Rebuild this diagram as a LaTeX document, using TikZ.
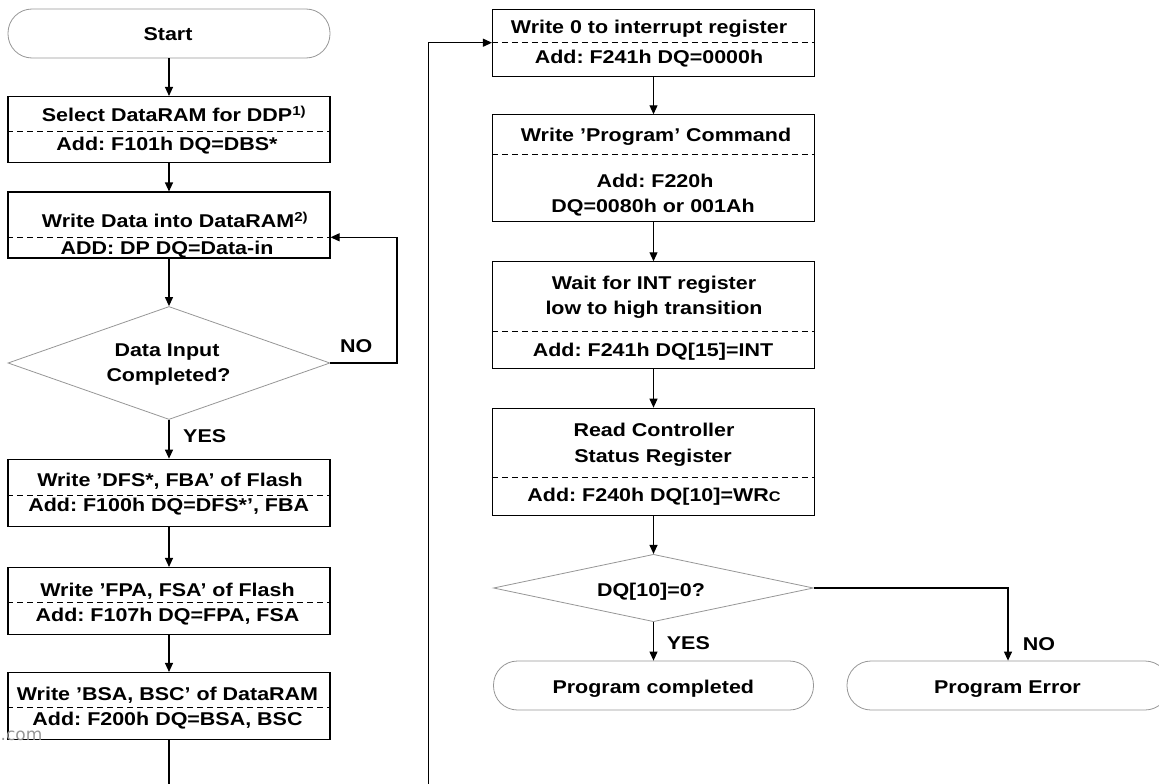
\documentclass[tikz,border=0pt]{standalone}
\usepackage{fontspec}
\setmainfont{Liberation Sans}[FakeStretch=1.16]
\newfontfamily\wmfont{DejaVu Sans}
\usetikzlibrary{arrows.meta,shapes.geometric}
\definecolor{termgray}{RGB}{150,150,150}
\frenchspacing

\begin{document}
\begin{tikzpicture}[x=1pt,y=-1pt,
    box/.style={draw, line width=1.1pt, minimum width=322pt, inner sep=0pt},
    term/.style={draw=termgray, line width=0.8pt, rounded corners=24pt,
        minimum width=322pt, minimum height=49pt, inner sep=0pt},
    decision/.style={diamond, draw=termgray, line width=0.8pt, inner sep=0pt},
    txt/.style={anchor=base, inner sep=0pt, font=\bfseries\fontsize{18.5}{25}\selectfont},
    sep/.style={line width=0.9pt, dash pattern=on 6pt off 4pt},
    arr/.style={line width=1.1pt, -{Triangle[length=9pt,width=8pt]}}]

    \useasboundingbox (0,0) rectangle (1159,784);

    % left column
    \node[term] (start) at (169,33.5) {};
    \node[txt] (startT) at (168,41) {Start};

    \node[box, minimum height=66pt] (b1) at (169,129.5) {};
    \node[txt] (b1a) at (174,121.5) {Select DataRAM for DDP\textsuperscript{1)}};
    \node[txt] (b1b) at (167,150) {Add: F101h DQ=DBS*};

    \node[box, minimum height=66pt] (b2) at (169,225) {};
    \node[txt] (b2a) at (175,227.5) {Write Data into DataRAM\textsuperscript{2)}};
    \node[txt] (b2b) at (167,254) {ADD: DP DQ=Data-in};

    \node[decision, minimum width=322pt, minimum height=113pt] (d1) at (169,363) {};
    \node[txt] (d1a) at (167,356) {Data Input};
    \node[txt] (d1b) at (168.5,381.5) {Completed?};

    \node[box, minimum height=67pt] (b3) at (169,492.7) {};
    \node[txt] (b3a) at (170,486.5) {Write ’DFS*, FBA’ of Flash};
    \node[txt] (b3b) at (168.7,511.5) {Add: F100h DQ=DFS*’, FBA};

    \node[box, minimum height=67pt] (b4) at (169,601) {};
    \node[txt] (b4a) at (167.5,596) {Write ’FPA, FSA’ of Flash};
    \node[txt] (b4b) at (167.5,621) {Add: F107h DQ=FPA, FSA};

    \node[box, minimum height=67pt] (b5) at (169,706) {};
    \node[txt] (b5a) at (167.5,700.5) {Write ’BSA, BSC’ of DataRAM};
    \node[txt] (b5b) at (167.5,725.5) {Add: F200h DQ=BSA, BSC};

    \node[anchor=base west, inner sep=0pt, text=termgray, font=\wmfont\fontsize{17}{17}\selectfont] (wm) at (0.5,740) {.com};

    % right column
    \node[box, minimum height=67pt] (b6) at (653.5,42.7) {};
    \node[txt] (b6a) at (649,33.5) {Write 0 to interrupt register};
    \node[txt] (b6b) at (649,63.5) {Add: F241h DQ=0000h};

    \node[box, minimum height=107pt] (b7) at (653.5,168.3) {};
    \node[txt] (b7a) at (656,141) {Write ’Program’ Command};
    \node[txt] (b7b) at (655,187) {Add: F220h};
    \node[txt] (b7c) at (653,212.5) {DQ=0080h or 001Ah};

    \node[box, minimum height=107pt] (b8) at (653.5,315.3) {};
    \node[txt] (b8a) at (654,289) {Wait for INT register};
    \node[txt] (b8b) at (654,314.5) {low to high transition};
    \node[txt] (b8c) at (653,356) {Add: F241h DQ[15]=INT};

    \node[box, minimum height=107pt] (b9) at (653.5,461.7) {};
    \node[txt] (b9a) at (654,436.5) {Read Controller};
    \node[txt] (b9b) at (653,462.5) {Status Register};
    \node[txt] (b9c) at (654,501.5) {Add: F240h DQ[10]=WR{\fontsize{14}{14}\selectfont C}};

    \node[decision, minimum width=320pt, minimum height=67.4pt] (d2) at (653.5,588) {};
    \node[txt] (d2a) at (651,596) {DQ[10]=0?};

    \node[term, minimum width=320pt] (pc) at (653.5,685.5) {};
    \node[txt] (pcT) at (653.3,693.5) {Program completed};
    \node[term] (pe) at (1008,685.5) {};
    \node[txt] (peT) at (1007.5,693.5) {Program Error};

    % separators
    \foreach \b/\y in {b1/131.7, b2/237.3, b3/495, b4/602.3, b5/707.3,
                       b6/42.3, b7/154.3, b8/331.7, b9/477.7}
        \draw[sep] (\b.west |- 0,\y) -- (\b.east |- 0,\y);

    % connectors
    \draw[arr] (start) -- (b1);
    \draw[arr] (b1) -- (b2);
    \draw[arr] (b2) -- (d1);
    \draw[arr] (d1) -- (b3);
    \draw[arr] (b3) -- (b4);
    \draw[arr] (b4) -- (b5);
    \coordinate (outL) at (169,784);
    \draw[line width=1.1pt] (b5) -- (outL);

    \coordinate (noturn) at (397,237.3);
    \draw[arr] (d1.east) -| (noturn) -- (noturn -| b2.east);
    \node[txt, anchor=base west] (no1) at (340,352.5) {NO};
    \node[txt, anchor=base west] (yes1) at (183,442.5) {YES};

    \coordinate (inR) at (428.3,784);
    \draw[arr] (inR) |- (b6.west);
    \draw[arr] (b6) -- (b7);
    \draw[arr] (b7) -- (b8);
    \draw[arr] (b8) -- (b9);
    \draw[arr] (b9) -- (d2);
    \draw[arr] (d2) -- (pc);
    \draw[arr] (d2.east) -| (pe.north);
    \node[txt, anchor=base west] (yes2) at (666.7,649.5) {YES};
    \node[txt, anchor=base west] (no2) at (1022.7,650) {NO};
\end{tikzpicture}
\end{document}
